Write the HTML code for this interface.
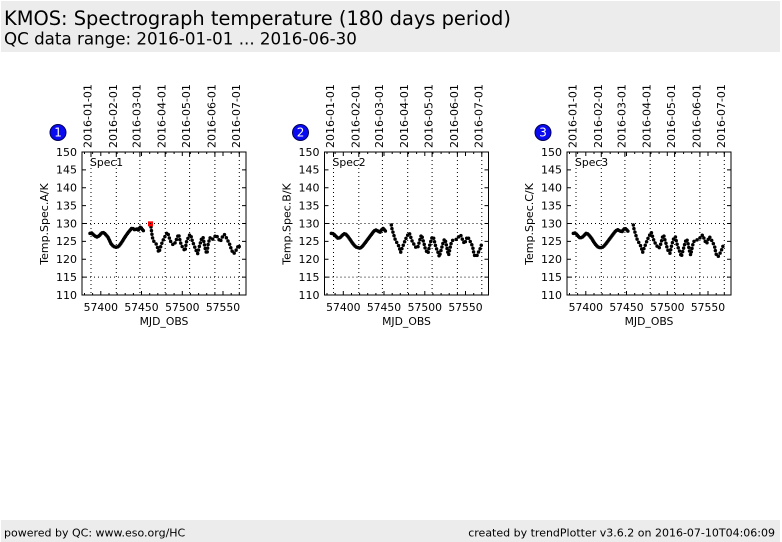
<!DOCTYPE html>
<html><head><meta charset="utf-8"><style>
html,body{margin:0;padding:0;background:#fff;}
svg{display:block;font-family:"DejaVu Sans","Liberation Sans",sans-serif;}
</style></head><body>
<svg width="782" height="542" viewBox="0 0 782 542" xmlns="http://www.w3.org/2000/svg">
<rect x="1" y="1" width="779" height="51" fill="#ececec"/>
<text x="4" y="25" font-size="19.4" fill="#000">KMOS: Spectrograph temperature (180 days period)</text>
<text x="4" y="44.5" font-size="16.7" fill="#000">QC data range: 2016-01-01 ... 2016-06-30</text>
<rect x="1" y="520" width="779" height="22" fill="#ececec"/>
<text x="4" y="536.5" font-size="11" fill="#000">powered by QC: www.eso.org/HC</text>
<text x="775" y="536.5" font-size="11" fill="#000" text-anchor="end">created by trendPlotter v3.6.2 on 2016-07-10T04:06:09</text>

<defs>
<g id="frame">
  <g stroke="#000" stroke-width="1" stroke-dasharray="1,3" fill="none">
    <line x1="9" y1="0" x2="9" y2="143"/>
    <line x1="34.3" y1="0" x2="34.3" y2="143"/>
    <line x1="57.9" y1="0" x2="57.9" y2="143"/>
    <line x1="83.2" y1="0" x2="83.2" y2="143"/>
    <line x1="107.6" y1="0" x2="107.6" y2="143"/>
    <line x1="132.9" y1="0" x2="132.9" y2="143"/>
    <line x1="157.3" y1="0" x2="157.3" y2="143"/>
    <line x1="0" y1="71.5" x2="164" y2="71.5"/>
    <line x1="0" y1="125.1" x2="164" y2="125.1"/>
  </g>
  <g stroke="#000" stroke-width="1">
    <path d="M0,17.9h4M0,35.75h4M0,53.6h4M0,71.5h4M0,89.4h4M0,107.25h4M0,125.1h4"/>
    <path d="M164,17.9h-4M164,35.75h-4M164,53.6h-4M164,71.5h-4M164,89.4h-4M164,107.25h-4M164,125.1h-4"/>
    <path d="M18.8,143v-4M59.5,143v-4M100.3,143v-4M141,143v-4"/>
    <path d="M2.5,143v-2M10.6,143v-2M27,143v-2M35.1,143v-2M43.2,143v-2M51.4,143v-2M67.7,143v-2M75.8,143v-2M84,143v-2M92.1,143v-2M108.4,143v-2M116.6,143v-2M124.7,143v-2M132.9,143v-2M149.2,143v-2M157.3,143v-2"/>
    <path d="M18.8,0v4M59.5,0v4M100.3,0v4M141,0v4"/>
    <path d="M2.5,0v2M10.6,0v2M27,0v2M35.1,0v2M43.2,0v2M51.4,0v2M67.7,0v2M75.8,0v2M84,0v2M92.1,0v2M108.4,0v2M116.6,0v2M124.7,0v2M132.9,0v2M149.2,0v2M157.3,0v2"/>
    <path d="M9,0v4M34.3,0v4M57.9,0v4M83.2,0v4M107.6,0v4M132.9,0v4M157.3,0v4"/>
  </g>
  <rect x="0" y="0" width="164" height="143" fill="none" stroke="#000" stroke-width="1"/>
  <g font-size="11" text-anchor="end" fill="#000">
    <text x="-5" y="3.8">150</text>
    <text x="-5" y="21.7">145</text>
    <text x="-5" y="39.5">140</text>
    <text x="-5" y="57.4">135</text>
    <text x="-5" y="75.3">130</text>
    <text x="-5" y="93.2">125</text>
    <text x="-5" y="111">120</text>
    <text x="-5" y="128.9">115</text>
    <text x="-5" y="146.8">110</text>
  </g>
  <g font-size="10.8" text-anchor="middle" fill="#000">
    <text x="18.8" y="159">57400</text>
    <text x="59.5" y="159">57450</text>
    <text x="100.3" y="159">57500</text>
    <text x="141" y="159">57550</text>
    <text x="82" y="173">MJD_OBS</text>
  </g>
  <g font-size="11" fill="#000">
    <text transform="translate(9.5,-4) rotate(-90)">2016-01-01</text>
    <text transform="translate(34.8,-4) rotate(-90)">2016-02-01</text>
    <text transform="translate(58.4,-4) rotate(-90)">2016-03-01</text>
    <text transform="translate(83.7,-4) rotate(-90)">2016-04-01</text>
    <text transform="translate(108.1,-4) rotate(-90)">2016-05-01</text>
    <text transform="translate(133.4,-4) rotate(-90)">2016-06-01</text>
    <text transform="translate(157.8,-4) rotate(-90)">2016-07-01</text>
  </g>
</g>
</defs>

<!-- Plot 1 -->
<g transform="translate(82,152)">
  <g transform="translate(-7,-7) scale(0.33333)" fill="none" stroke="#000" stroke-linecap="round" stroke-linejoin="round">
    <polyline stroke-width="10.5" stroke-dasharray="0 5" points="45,265 50,264 55,269 60,273 66,276 72,273 78,266 83,262 88,264 93,270 98,275 103,285 108,296 113,302 118,305 124,307 130,305 135,299 140,292 145,284 150,276 155,269 160,262 165,256 170,250 175,251 180,255 185,251 190,255 194,248 197,246 201,252 206,258"/>
    <polyline stroke-width="10.5" stroke-dasharray="0 11" points="228,246 230,262 232,276 235,287 239,292 243,296 247,305 250,318 252,322 256,308 260,296 265,284 270,274 275,265 278,262 281,272 284,282 288,292 292,297 296,300 300,294 304,284 308,274 311,268 314,282 317,294 320,302 325,310 330,318 334,292 338,282 342,272 346,268 349,276 352,288 356,298 360,308 364,318 368,326 372,308 376,294 380,280 384,276 387,292 390,308 393,320 396,326 399,300 402,288 405,278 408,282 412,284 418,276 424,270 428,278 432,284 436,290 440,280 444,272 448,268 452,274 456,282 460,290 464,298 468,310 472,320 476,326 480,322 484,314 488,306 492,300 494,312"/>
    <rect x="219" y="229" width="15" height="15" fill="#ff0000" stroke="none"/>
  </g>
  <use href="#frame"/>
  <text x="8" y="14" font-size="10.8" fill="#000">Spec1</text>
  <text transform="translate(-34,72) rotate(-90)" font-size="11" text-anchor="middle" fill="#000">Temp.Spec.A/K</text>
  <circle cx="-24" cy="-19.5" r="8" fill="#0a0af0" stroke="#00005a" stroke-width="1"/>
  <text x="-24" y="-15.3" font-size="12" text-anchor="middle" fill="#fff">1</text>
</g>

<!-- Plot 2 -->
<g transform="translate(324.5,152)">
  <g transform="translate(-6.5,-7) scale(0.33333)" fill="none" stroke="#000" stroke-linecap="round" stroke-linejoin="round">
    <polyline stroke-width="10.5" stroke-dasharray="0 5" points="40,265 45,266 50,270 55,275 60,280 66,278 72,272 78,266 84,268 90,275 96,283 102,292 108,300 114,306 120,308 126,310 132,305 138,298 144,290 150,282 156,274 162,266 168,258 174,255 180,258 186,262 190,255 195,250 200,255 205,262"/>
    <polyline stroke-width="10.5" stroke-dasharray="0 11" points="220,240 222,252 225,262 228,272 232,285 236,292 240,298 244,308 248,322 252,310 256,300 260,290 264,280 268,272 274,264 277,272 280,282 284,292 288,298 292,305 296,310 300,305 304,290 308,275 311,270 314,282 318,295 322,312 326,320 330,325 334,305 338,290 342,278 346,275 349,288 352,300 356,312 360,322 364,335 368,320 372,305 376,290 380,282 383,290 386,305 389,320 392,330 396,310 400,292 404,286 410,285 418,282 424,272 428,270 432,280 436,290 440,296 444,285 448,275 452,280 456,288 460,296 464,305 467,322 470,332 474,335 478,330 482,320 486,312 490,300"/>
  </g>
  <use href="#frame"/>
  <text x="8" y="14" font-size="10.8" fill="#000">Spec2</text>
  <text transform="translate(-34,72) rotate(-90)" font-size="11" text-anchor="middle" fill="#000">Temp.Spec.B/K</text>
  <circle cx="-24" cy="-19.5" r="8" fill="#0a0af0" stroke="#00005a" stroke-width="1"/>
  <text x="-24" y="-15.3" font-size="12" text-anchor="middle" fill="#fff">2</text>
</g>

<!-- Plot 3 -->
<g transform="translate(567,152)">
  <g transform="translate(-7,-7) scale(0.33333)" fill="none" stroke="#000" stroke-linecap="round" stroke-linejoin="round">
    <polyline stroke-width="10.5" stroke-dasharray="0 5" points="40,265 45,264 50,268 55,274 60,279 66,277 72,272 78,265 84,267 90,274 96,282 102,292 108,300 114,306 120,308 126,308 132,303 138,296 144,288 150,280 156,272 162,264 168,257 174,254 180,258 186,260 190,254 195,250 200,254 205,260"/>
    <polyline stroke-width="10.5" stroke-dasharray="0 11" points="220,240 222,252 225,262 228,272 232,285 236,292 240,298 244,308 248,322 252,310 256,300 260,290 264,280 268,272 274,262 277,272 280,282 284,292 288,298 292,305 296,310 300,305 304,290 308,275 311,270 314,282 318,295 322,312 326,320 330,325 334,305 338,290 342,278 346,275 349,288 352,300 356,312 360,322 364,335 368,320 372,305 376,290 380,282 383,290 386,305 389,320 392,330 396,310 400,292 404,286 410,285 418,282 424,272 428,270 432,280 436,290 440,296 444,285 448,275 452,280 456,288 460,296 464,305 467,322 470,332 474,335 478,330 482,320 486,312 490,300"/>
  </g>
  <use href="#frame"/>
  <text x="8" y="14" font-size="10.8" fill="#000">Spec3</text>
  <text transform="translate(-34,72) rotate(-90)" font-size="11" text-anchor="middle" fill="#000">Temp.Spec.C/K</text>
  <circle cx="-24" cy="-19.5" r="8" fill="#0a0af0" stroke="#00005a" stroke-width="1"/>
  <text x="-24" y="-15.3" font-size="12" text-anchor="middle" fill="#fff">3</text>
</g>
</svg>
</body></html>
